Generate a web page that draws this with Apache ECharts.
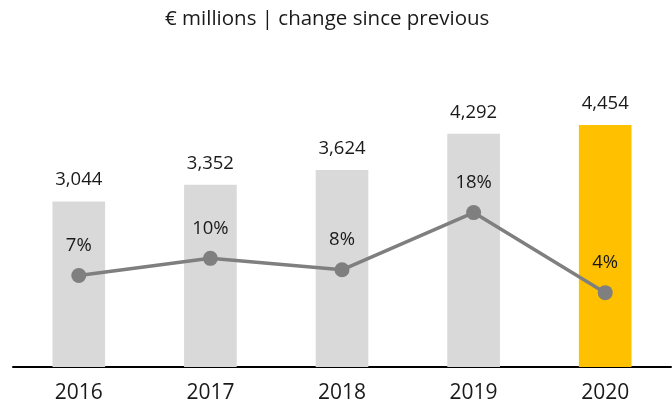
<!DOCTYPE html>
<html><head><meta charset="utf-8">
<script src="https://cdn.jsdelivr.net/npm/echarts@6/dist/echarts.min.js"></script>
<style>html,body{margin:0;padding:0;background:#fff}#c{width:672px;height:407px}</style>
</head><body><div id="c"></div>
<script>
const categories = ['2016', '2017', '2018', '2019', '2020'];
const revenue = [3044, 3352, 3624, 4292, 4454];
const changePct = [7, 10, 8, 18, 4];
const titleText = '€ millions | change since previous';

const FONT = 'Open Sans';
const chart = echarts.init(document.getElementById('c'));
chart.setOption({
  animation: false,
  title: {
    text: titleText, left: 160, top: 4,
    textStyle: { fontFamily: FONT, fontSize: 20.5, fontWeight: 'normal', color: '#1a1a1a' }
  },
  grid: { left: 13, right: 1, top: 41, bottom: 40 },
  xAxis: {
    type: 'category', data: categories,
    axisLine: { lineStyle: { color: '#000', width: 2 } },
    axisTick: { show: false },
    axisLabel: { fontFamily: FONT, fontSize: 21, color: '#1a1a1a', margin: 16 }
  },
  yAxis: [
    { type: 'value', min: 0, max: 6000, show: false, splitLine: { show: false } },
    { type: 'value', min: -9, max: 48, show: false, splitLine: { show: false } }
  ],
  series: [
    {
      type: 'bar', data: revenue.map((v, i) => ({
        value: v,
        itemStyle: { color: i === revenue.length - 1 ? '#FFC000' : '#D9D9D9' }
      })),
      barWidth: '40%',
      label: {
        show: true, position: 'top', distance: 12,
        fontFamily: FONT, fontSize: 18.5, color: '#1a1a1a',
        formatter: p => p.value.toLocaleString('en-US')
      }
    },
    {
      type: 'line', yAxisIndex: 1, data: changePct,
      symbol: 'circle', symbolSize: 15,
      lineStyle: { color: '#7F7F7F', width: 3.5 },
      itemStyle: { color: '#7F7F7F' },
      label: {
        show: true, position: 'top', distance: 13,
        fontFamily: FONT, fontSize: 18.5, color: '#1a1a1a',
        formatter: p => p.value + '%'
      },
      z: 5
    }
  ]
});
</script></body></html>
